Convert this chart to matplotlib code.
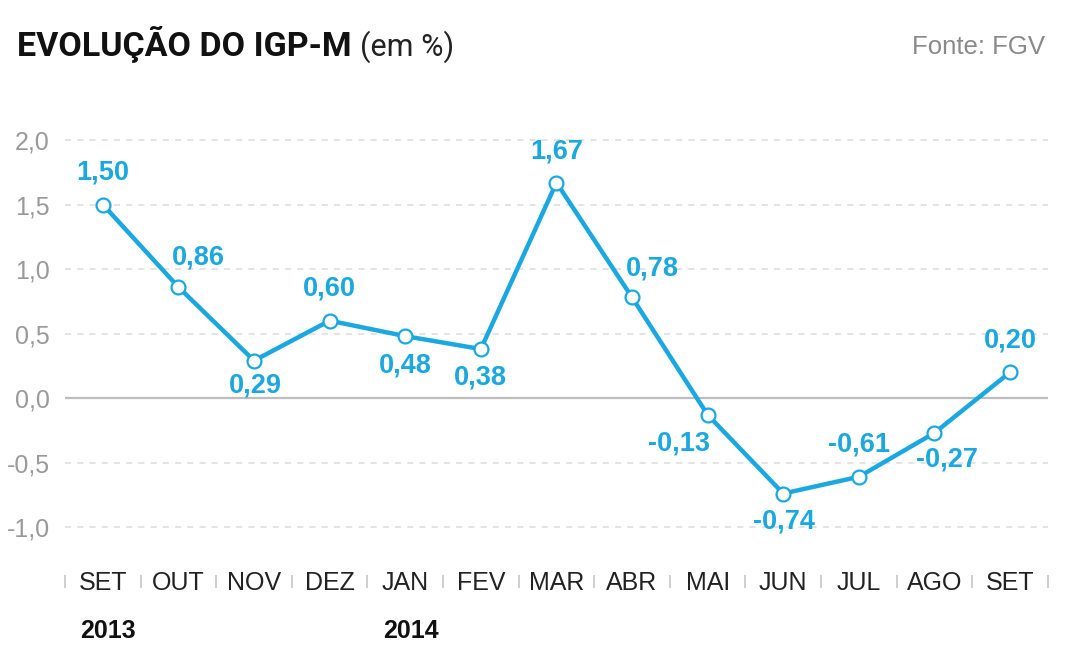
import numpy as np
import matplotlib
matplotlib.use("Agg")
import matplotlib.pyplot as plt
import matplotlib.transforms as mtransforms

# -- Data --
months = ["SET", "OUT", "NOV", "DEZ", "JAN", "FEV", "MAR", "ABR", "MAI", "JUN", "JUL", "AGO", "SET"]
igpm = [1.50, 0.86, 0.29, 0.60, 0.48, 0.38, 1.67, 0.78, -0.13, -0.74, -0.61, -0.27, 0.20]
year_pos = [0, 4]
year_labels = ["2013", "2014"]
yticks = [-1.0, -0.5, 0.0, 0.5, 1.0, 1.5, 2.0]

# label offsets in pixels (dx, dy) relative to each point
label_off = [(0, 32), (20, 30), (1, -25), (0, 32), (0, -29), (0, -28), (0, 31),
             (20, 29), (-29, -29), (1, -28), (0, 32), (13, -27), (0, 32)]

BLUE = "#1ba8e0"

plt.rcParams["font.family"] = ["Liberation Sans", "DejaVu Sans"]

fig = plt.figure(figsize=(10.86, 6.52), dpi=100)
ax = fig.add_axes([0.0599, 0.152, 0.905, 0.653])

x = np.arange(len(months))

# -- grid --
for v in yticks:
    if v == 0:
        ax.axhline(v, color="#bdbdbd", lw=1.6, zorder=1)
    else:
        ax.axhline(v, color="#dcdcdc", lw=1.1, ls=(0, (4, 4)), zorder=1)

ax.plot(x, igpm, color=BLUE, lw=3.2, marker="o", ms=10, mfc="white",
        mec=BLUE, mew=1.6, zorder=3, clip_on=False)

for xi, v, (dx, dy) in zip(x, igpm, label_off):
    ax.annotate(f"{v:.2f}".replace(".", ","), xy=(xi, v), xytext=(dx * 0.72, dy * 0.72),
                textcoords="offset points", ha="center", va="center",
                fontsize=19.5, fontweight="bold", color=BLUE, zorder=4)

ax.set_xlim(-0.5, len(months) - 0.5)
ax.set_ylim(-1.2, 2.1)
ax.set_yticks(yticks)
ax.set_yticklabels([f"{v:.1f}".replace(".", ",") for v in yticks])
ax.tick_params(axis="y", length=0, pad=11, labelsize=18, labelcolor="#9a9a9a")

ax.set_xticks(x)
ax.set_xticklabels(months)
ax.tick_params(axis="x", length=0, pad=13, labelsize=18, labelcolor="#222222")

for s in ax.spines.values():
    s.set_visible(False)

# separators between month labels
trans = mtransforms.blended_transform_factory(ax.transData, ax.transAxes)
ax.vlines(np.arange(len(months) + 1) - 0.5, -0.052, -0.082, transform=trans,
          color="#cccccc", lw=1.3, clip_on=False)

# years
for p, yl in zip(year_pos, year_labels):
    ax.annotate(yl, xy=(p, -0.183), xycoords=trans, xytext=(4, 0),
                textcoords="offset points", ha="center", va="center",
                fontsize=18, fontweight="bold", color="#111111")

# -- title --
t = fig.text(0.016, 0.932, "EVOLUÇÃO DO IGP-M", fontsize=24.5, fontweight="bold",
             family=["Roboto", "DejaVu Sans"], color="#111111",
             ha="left", va="center")
ax.annotate("(em %)", xy=(1, 0), xycoords=t, xytext=(6, 0), textcoords="offset points",
            ha="left", va="bottom", fontsize=22,
            family=["Roboto", "DejaVu Sans"], color="#222222")
fig.text(0.962, 0.928, "Fonte: FGV", fontsize=18.5, color="#8a8a8a", ha="right", va="center")

fig.savefig("out.png", dpi=100, facecolor="white")
